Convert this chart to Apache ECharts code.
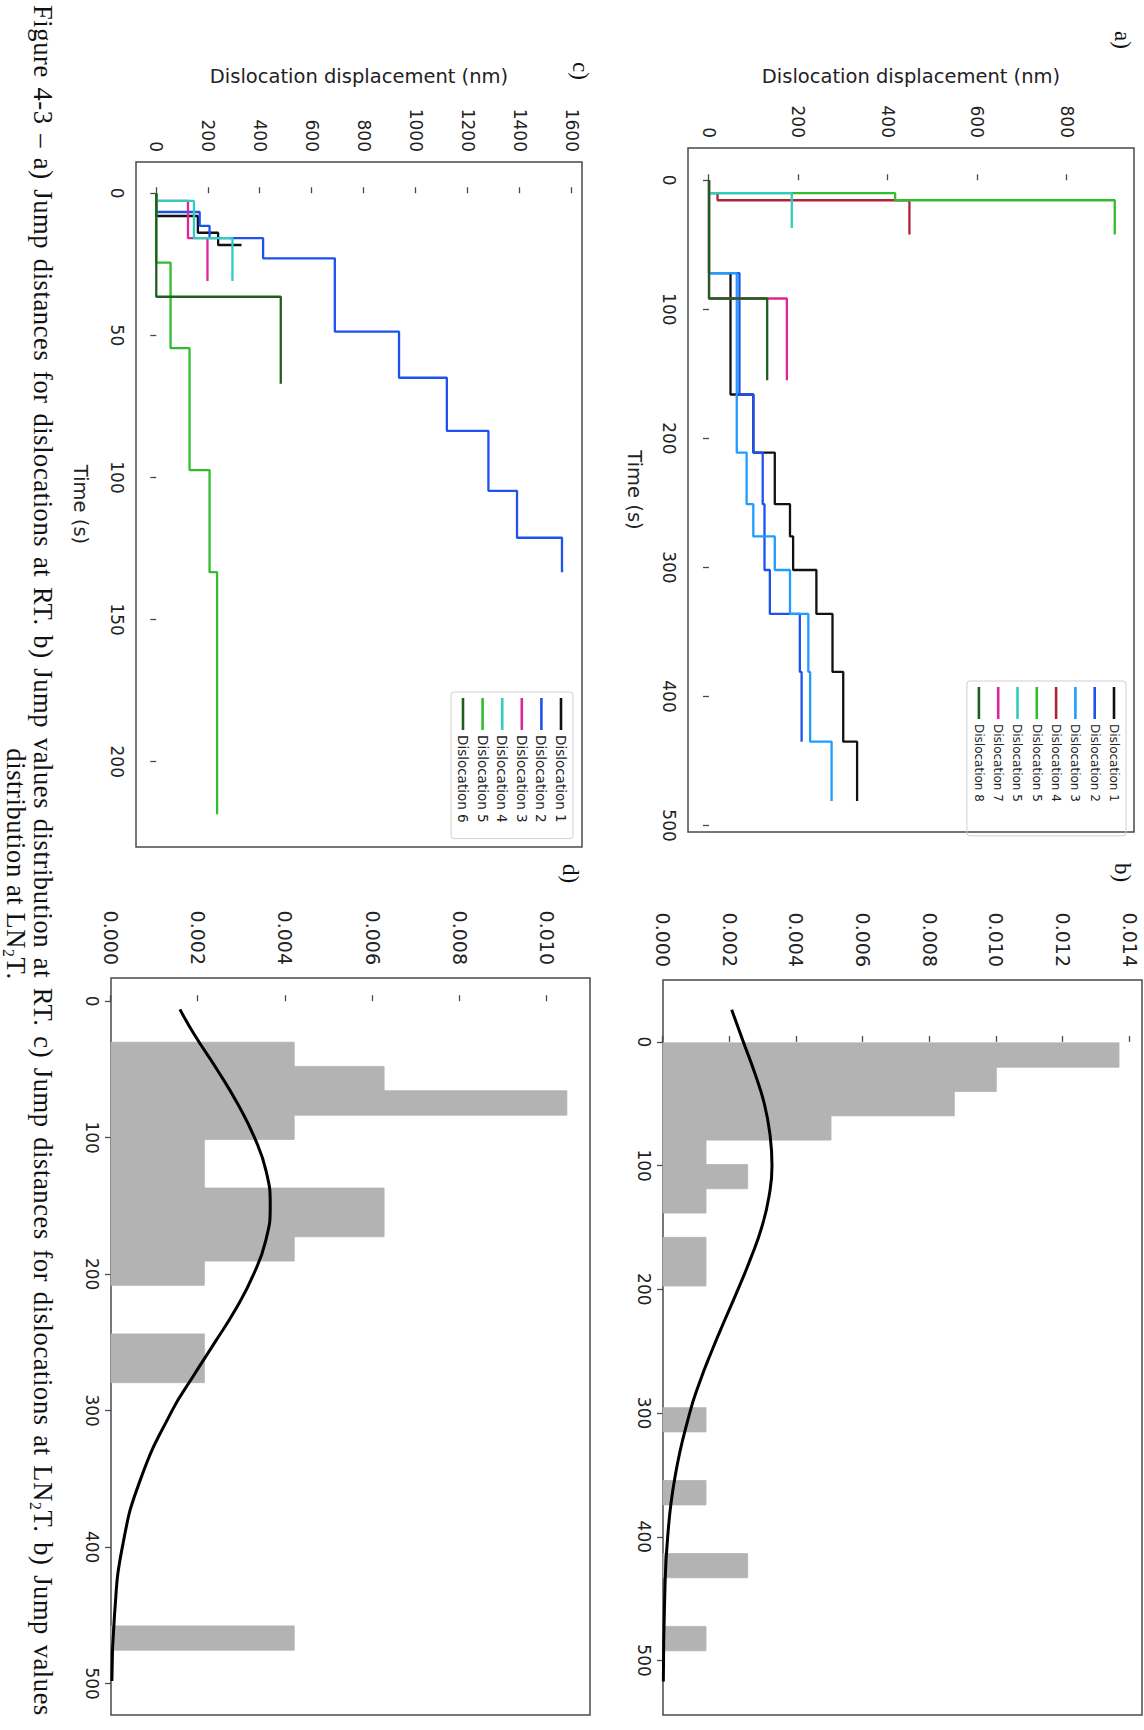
<!DOCTYPE html>
<html><head><meta charset="utf-8">
<script src="https://cdn.jsdelivr.net/npm/echarts@6/dist/echarts.min.js"></script>
<style>
html,body{margin:0;padding:0;background:#fff;width:1144px;height:1730px;overflow:hidden;}
#stage{position:absolute;left:0;top:0;width:1730px;height:1144px;transform-origin:0 0;transform:translate(1144px,0) rotate(90deg);}
#chart{position:absolute;left:0;top:0;width:1730px;height:1144px;}
#caption{position:absolute;left:5px;top:1088px;width:1718px;font-family:'Liberation Serif',serif;font-size:26px;line-height:26px;letter-spacing:0.6px;color:#111;}
#caption .l1{white-space:nowrap;}
#caption .l1 span{display:inline-block;white-space:nowrap;}
#caption .l2{text-align:center;white-space:nowrap;}
sub{font-size:0.6em;vertical-align:-0.25em;line-height:0;}
</style></head><body>
<div id="stage">
<div id="chart"></div>
<div id="caption"><div class="l1"><span id="cap1">Figure 4-3 – a) Jump distances for dislocations at RT. b) Jump values distribution at RT. c) Jump distances for dislocations at LN<sub>2</sub>T. b) Jump values</span></div><div class="l2" id="cap2">distribution at LN<sub>2</sub>T.</div></div>
</div>
<script>
// ---------- Panel a: jump distances at RT  ([time s, displacement nm], step after jump) ----------
const aNames = ['Dislocation 1','Dislocation 2','Dislocation 3','Dislocation 4','Dislocation 5','Dislocation 5','Dislocation 7','Dislocation 8'];
const aDisl1 = [[0,0],[72,48],[166,99],[211,147],[251,181],[276,188],[302,240],[336,276],[381,300],[435,331],[481,331]];
const aDisl2 = [[72,0],[72,68],[166,99],[211,120],[251,124],[302,136],[336,203],[381,207],[435,207]];
const aDisl3 = [[72,0],[72,62],[211,84],[251,99],[276,147],[302,181],[336,222],[381,226],[435,274],[481,274]];
const aDisl4 = [[10,0],[10,19],[15.5,448],[42,448]];
const aDisl5 = [[10,0],[10,416],[15.5,907],[42,907]];
const aDisl6 = [[10,0],[10,185],[37,185]];
const aDisl7 = [[0,0],[91.6,174],[155,174]];
const aDisl8 = [[0,0],[91.6,130],[155,130]];
const aTimeTicks = [0,100,200,300,400,500];
const aDispTicks = [0,200,400,600,800];

// ---------- Panel b: jump value distribution at RT ----------
const bEdges = [0.8,20.5,40.1,59.8,79.4,99.1,118.7,138.4,158.0,177.7,197.3,217.0,236.6,256.3,275.9,295.6,315.2,334.9,354.5,374.2,393.8,413.5,433.1,452.8,472.4,492.1];
const bDensity = [0.01368,0.0100,0.00874,0.00504,0.00129,0.00254,0.00129,0,0.00129,0.00129,0,0,0,0,0,0.00129,0,0,0.00129,0,0,0.00254,0,0,0.00129];
const bCurveX = [-26,0,25,50,75,100,125,150,175,200,225,250,275,300,350,400,450,517];
const bCurveY = [0.00206,0.00241,0.00275,0.00304,0.00321,0.00327,0.00318,0.00296,0.00263,0.00225,0.00185,0.00146,0.00110,0.00080,0.00037,0.00014,0.00005,0.00001];
const bValueTicks = [0,100,200,300,400,500];
const bDensityTicks = [0,0.002,0.004,0.006,0.008,0.010,0.012,0.014];

// ---------- Panel c: jump distances at LN2T ----------
const cNames = ['Dislocation 1','Dislocation 2','Dislocation 3','Dislocation 4','Dislocation 5','Dislocation 6'];
const cDisl1 = [[0,0],[8,160],[13.9,238],[18.2,328]];
const cDisl2 = [[0,0],[6.6,167],[11.5,205],[15.8,411],[22.9,687],[48.7,934],[64.9,1118],[83.6,1278],[104.7,1388],[121.2,1561],[133.3,1561]];
const cDisl3 = [[0,0],[2.7,122],[15.8,197],[30.9,197]];
const cDisl4 = [[0,0],[2.7,145],[15.8,293],[30.9,293]];
const cDisl5 = [[0,0],[24.4,55],[54.5,128],[97.4,205],[133.3,234],[218.5,234]];
const cDisl6 = [[0,0],[36.4,479],[67,479]];
const cTimeTicks = [0,50,100,150,200];
const cDispTicks = [0,200,400,600,800,1000,1200,1400,1600];

// ---------- Panel d: jump value distribution at LN2T ----------
const dEdges = [30.0,47.8,65.6,83.5,101.3,119.1,136.9,154.7,172.6,190.4,208.2,226.0,243.8,261.7,279.5,297.3,315.1,332.9,350.8,368.6,386.4,404.2,422.0,439.9,457.7,475.5];
const dDensity = [0.0042,0.00626,0.01045,0.0042,0.00214,0.00214,0.00626,0.00626,0.0042,0.00214,0,0,0.00214,0.00214,0,0,0,0,0,0,0,0,0,0,0.0042];
const dCurveX = [6,25,50,75,100,125,150,175,200,225,250,275,300,350,400,450,498];
const dCurveY = [0.00158,0.00192,0.00243,0.00290,0.00329,0.00356,0.00365,0.00355,0.00327,0.00287,0.00238,0.00188,0.00140,0.00068,0.00026,0.00008,0.00002];
const dValueTicks = [0,100,200,300,400,500];
const dDensityTicks = [0,0.002,0.004,0.006,0.008,0.010];

// ---------- caption fit: spread line 1 over the full width ----------
(function fitCaption(){
  const span = document.getElementById('cap1');
  const line2 = document.getElementById('cap2');
  const target = 1718;
  let fs = 26;
  span.style.fontSize = fs + 'px';
  while (span.offsetWidth < target - 70 && fs < 28.5) { fs += 0.25; span.style.fontSize = fs + 'px'; }
  while (span.offsetWidth > target - 20 && fs > 16) { fs -= 0.25; span.style.fontSize = fs + 'px'; }
  line2.style.fontSize = fs + 'px';
  const spaces = (span.textContent.match(/ /g) || []).length;
  const extra = (target - span.offsetWidth) / spaces;
  span.style.wordSpacing = Math.max(0, extra - 0.3) + 'px';
})();

// ---------- styles ----------
const aColors = ['#111111','#1d52ee','#1e9cff','#b0213a','#30bd30','#2fcdbd','#de2599','#1e5e1e'];
const cColors = ['#111111','#1d52ee','#de2599','#2fcdbd','#30bd30','#1e5e1e'];
const FONT = 'DejaVu Sans';
const TXT = '#222';
const FRAME = '#4a4a4a';
const BAR = '#b3b3b3';

const chart = echarts.init(document.getElementById('chart'), null, {renderer:'svg'});

const plain = v => String(v);
const dens = v => v.toFixed(3);
function axis(gridIndex, min, max, ticks, fontSize, margin, fmt, extra) {
  return Object.assign({
    type:'value', gridIndex, min, max,
    axisLine:{show:false},
    splitLine:{show:false},
    axisTick:{show:true, inside:false, length:6, customValues:ticks, lineStyle:{color:FRAME, width:1.3}},
    axisLabel:{customValues:ticks, fontFamily:FONT, fontSize, color:TXT, margin, formatter:fmt}
  }, extra || {});
}

const aData = [aDisl1,aDisl2,aDisl3,aDisl4,aDisl5,aDisl6,aDisl7,aDisl8];
const cData = [cDisl1,cDisl2,cDisl3,cDisl4,cDisl5,cDisl6];

const series = [];
aData.forEach((d,i) => series.push({
  type:'line', name:'a'+i, xAxisIndex:0, yAxisIndex:0, data:d, step:'end', symbol:'none',
  lineStyle:{color:aColors[i], width:2.3}, itemStyle:{color:aColors[i]}, animation:false
}));
cData.forEach((d,i) => series.push({
  type:'line', name:'c'+i, xAxisIndex:2, yAxisIndex:2, data:d, step:'end', symbol:'none',
  lineStyle:{color:cColors[i], width:2.3}, itemStyle:{color:cColors[i]}, animation:false
}));

function histSeries(xi, edges, dens) {
  const data = dens.map((h,i) => [edges[i], edges[i+1], h]);
  return {
    type:'custom', xAxisIndex:xi, yAxisIndex:xi, data, animation:false,
    encode:{x:[0,1], y:2},
    renderItem:(params, api) => {
      if (api.value(2) <= 0) return null;
      const p0 = api.coord([api.value(0), 0]);
      const p1 = api.coord([api.value(1), api.value(2)]);
      return {type:'rect', shape:{x:p0[0], y:p1[1], width:p1[0]-p0[0], height:p0[1]-p1[1]}, style:{fill:BAR, stroke:BAR, lineWidth:0.8}};
    }
  };
}
series.push(histSeries(1, bEdges, bDensity));
series.push({type:'line', xAxisIndex:1, yAxisIndex:1, data:bCurveX.map((x,i)=>[x,bCurveY[i]]), smooth:0.5, symbol:'none', lineStyle:{color:'#000', width:3}, animation:false, z:5});
series.push(histSeries(3, dEdges, dDensity));
series.push({type:'line', xAxisIndex:3, yAxisIndex:3, data:dCurveX.map((x,i)=>[x,dCurveY[i]]), smooth:0.5, symbol:'none', lineStyle:{color:'#000', width:3}, animation:false, z:5});

const nameStyle = {fontFamily:FONT, fontSize:19.5, color:TXT};
const gridBase = {show:true, borderColor:FRAME, borderWidth:1.5, backgroundColor:'transparent', containLabel:false};
const legendBase = {orient:'vertical', icon:'rect', itemWidth:32, itemHeight:2.6, selectedMode:false,
  borderColor:'#cfcfcf', borderWidth:1, borderRadius:3};

chart.setOption({
  backgroundColor:'#fff',
  animation:false,
  grid:[
    Object.assign({left:148, top:10, width:684, height:446}, gridBase),
    Object.assign({left:980, top:2, width:735, height:479}, gridBase),
    Object.assign({left:162, top:562, width:685, height:446}, gridBase),
    Object.assign({left:978, top:554, width:737, height:479}, gridBase)
  ],
  xAxis:[
    axis(0, -25, 505, aTimeTicks, 17, 11, plain, {name:'Time (s)', nameLocation:'middle', nameGap:44, nameTextStyle:nameStyle}),
    axis(1, -50, 544, bValueTicks, 17, 11, plain),
    axis(2, -11, 230, cTimeTicks, 17, 11, plain, {name:'Time (s)', nameLocation:'middle', nameGap:46, nameTextStyle:nameStyle}),
    axis(3, -17, 523, dValueTicks, 17, 11, plain)
  ],
  yAxis:[
    axis(0, -47, 950, aDispTicks, 17, 10, plain, {name:'Dislocation displacement (nm)', nameLocation:'middle', nameGap:62, nameTextStyle:nameStyle}),
    axis(1, 0, 0.01437, bDensityTicks, 19, 13, dens),
    axis(2, -78, 1638, cDispTicks, 17, 10, plain, {name:'Dislocation displacement (nm)', nameLocation:'middle', nameGap:76, nameTextStyle:nameStyle}),
    axis(3, 0, 0.01098, dDensityTicks, 19, 13, dens)
  ],
  legend:[
    Object.assign({data:aNames.map((n,i)=>'a'+i), formatter:n=>aNames[+n.slice(1)], left:681, top:18,
      itemGap:5.3, padding:[5,34,5,6], textStyle:{fontFamily:FONT, fontSize:12, color:TXT, lineHeight:14}}, legendBase),
    Object.assign({data:cNames.map((n,i)=>'c'+i), formatter:n=>cNames[+n.slice(1)], left:692, top:571,
      itemGap:5.6, padding:[5,16,5,6], textStyle:{fontFamily:FONT, fontSize:13.5, color:TXT, lineHeight:14}}, legendBase)
  ],
  graphic:[
    {type:'text', left:31, top:10, style:{text:'a)', fontFamily:'Liberation Serif', fontSize:23, fill:'#111'}},
    {type:'text', left:863, top:10, style:{text:'b)', fontFamily:'Liberation Serif', fontSize:23, fill:'#111'}},
    {type:'text', left:62, top:552, style:{text:'c)', fontFamily:'Liberation Serif', fontSize:23, fill:'#111'}},
    {type:'text', left:864, top:562, style:{text:'d)', fontFamily:'Liberation Serif', fontSize:23, fill:'#111'}}
  ],
  series
});
</script>
</body></html>
